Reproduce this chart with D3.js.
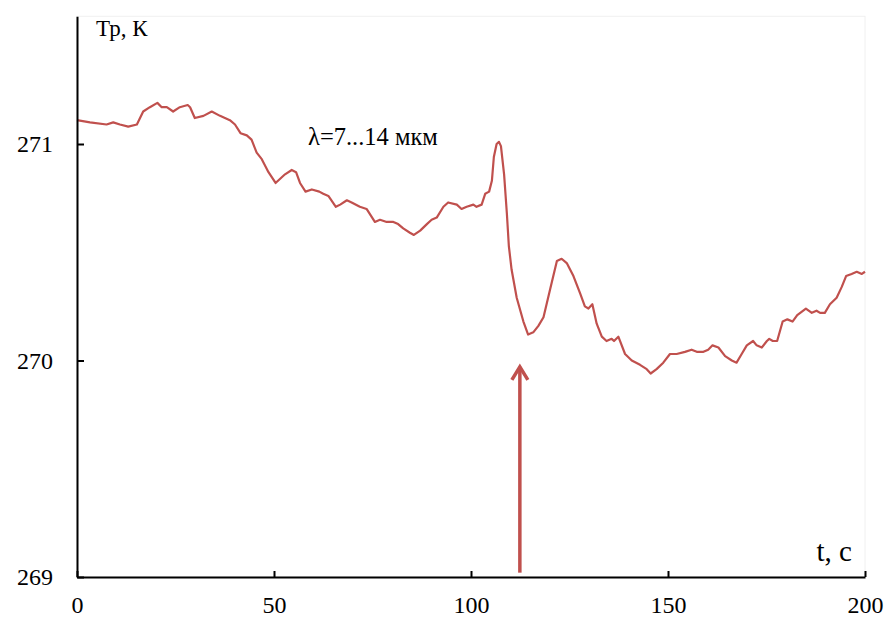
<!DOCTYPE html>
<html>
<head>
<meta charset="utf-8">
<script src="https://cdn.jsdelivr.net/npm/d3@7"></script>
<style>
  html, body { margin: 0; padding: 0; background: #fff; }
  svg { display: block; }
  text { font-family: "Times New Roman", "Liberation Serif", serif; fill: #000; }
</style>
</head>
<body>
<svg id="chart" width="889" height="620"></svg>
<script>
// ---- data ----
const timeS = [0,3.3,7.5,9.2,10.9,13.0,15.2,16.8,18.5,20.4,21.5,22.8,24.4,26.1,28.1,28.7,29.9,32.1,34.2,36.3,38.8,40.1,41.5,43.1,44.3,45.6,46.9,48.6,50.4,52.8,54.5,55.6,56.6,58.0,59.6,61.5,62.5,63.8,65.7,66.8,68.5,69.7,71.8,73.5,75.6,76.9,78.6,80.3,81.5,82.8,84.5,85.5,87.1,88.8,90.0,91.3,93.0,94.2,96.4,97.6,98.9,100.6,101.4,102.7,103.6,104.6,105.3,105.8,106.5,107.1,107.6,108.4,109.1,109.6,110.3,111.6,113.3,114.5,115.8,117.1,118.4,120.1,121.8,123.0,124.3,126.0,127.7,128.9,129.8,130.8,131.9,133.2,134.4,135.7,136.3,137.4,139.1,140.8,142.9,144.6,145.6,147.1,148.8,150.5,152.2,154.3,156.0,157.3,159.0,160.2,161.3,162.8,164.5,166.2,167.4,168.7,170.0,171.6,172.5,173.8,175.1,175.7,176.6,177.7,179.1,180.3,181.6,182.8,185.0,186.5,187.7,188.6,189.8,191.1,192.8,194.1,195.2,196.6,197.9,199.2,200];
const tempK = [271.11,271.10,271.09,271.10,271.09,271.08,271.09,271.15,271.17,271.19,271.17,271.17,271.15,271.17,271.18,271.17,271.12,271.13,271.15,271.13,271.11,271.09,271.05,271.04,271.02,270.96,270.93,270.87,270.82,270.86,270.88,270.87,270.82,270.78,270.79,270.78,270.77,270.76,270.71,270.72,270.74,270.73,270.71,270.70,270.64,270.65,270.64,270.64,270.63,270.61,270.59,270.58,270.60,270.63,270.65,270.66,270.71,270.73,270.72,270.70,270.71,270.72,270.71,270.72,270.77,270.78,270.83,270.94,271.00,271.01,270.99,270.86,270.68,270.53,270.42,270.29,270.18,270.12,270.13,270.16,270.20,270.33,270.46,270.47,270.45,270.39,270.31,270.25,270.24,270.26,270.17,270.11,270.09,270.10,270.09,270.11,270.03,270.00,269.98,269.96,269.94,269.96,269.99,270.03,270.03,270.04,270.05,270.04,270.04,270.05,270.07,270.06,270.02,270.00,269.99,270.03,270.07,270.09,270.07,270.06,270.09,270.10,270.09,270.09,270.18,270.19,270.18,270.21,270.24,270.22,270.23,270.22,270.22,270.26,270.29,270.34,270.39,270.40,270.41,270.40,270.41];
const xTicks = [0, 50, 100, 150, 200];
const yTicks = [269, 270, 271];
const xDomain = [0, 200];
const yDomain = [269, 271.59];
const arrowT = 112.4;
const arrowFromK = 269.02;
const arrowToK = 269.98;
const yTitle = "Тр, К";
const xTitle = "t, c";
const note = "λ=7...14 мкм";

// ---- layout ----
const serif = '"Times New Roman", "Liberation Serif", serif';
const svg = d3.select("#chart");
const plotLeft = 77, plotRight = 865, plotBottom = 577;
const x = d3.scaleLinear().domain(xDomain).range([plotLeft, plotRight]);
const y = d3.scaleLinear().domain([269, 271]).range([plotBottom, 144]);
const plotTop = y(yDomain[1]);
const red = "#c0504d";

// faint plot area border
svg.append("rect")
  .attr("x", plotLeft).attr("y", plotTop)
  .attr("width", plotRight - plotLeft).attr("height", plotBottom - plotTop)
  .attr("fill", "none").attr("stroke", "#f0f0f0").attr("stroke-width", 1);

// data line
const line = d3.line().x((d, i) => x(timeS[i])).y(d => y(d)).curve(d3.curveLinear);
svg.append("path")
  .datum(tempK)
  .attr("d", line)
  .attr("fill", "none")
  .attr("stroke", red)
  .attr("stroke-width", 2.2)
  .attr("stroke-linejoin", "round");

// arrow
const ax = x(arrowT), ay0 = y(arrowFromK), ay1 = y(arrowToK);
svg.append("line")
  .attr("x1", ax).attr("x2", ax).attr("y1", ay0).attr("y2", ay1 + 2)
  .attr("stroke", red).attr("stroke-width", 3.5);
svg.append("path")
  .attr("d", `M${ax - 8},${ay1 + 15} L${ax},${ay1 + 2} L${ax + 8},${ay1 + 15}`)
  .attr("fill", "none").attr("stroke", red).attr("stroke-width", 3.5)
  .attr("stroke-linejoin", "miter");

// axes
const xAxis = d3.axisBottom(x).tickValues(xTicks).tickSizeInner(-6).tickSizeOuter(0).tickFormat(d3.format("d"));
const gx = svg.append("g").attr("transform", `translate(0,${plotBottom})`).call(xAxis)
  .attr("font-family", serif).attr("font-size", 24);
gx.select(".domain").attr("stroke", "#000").attr("stroke-width", 2);
gx.selectAll(".tick line").attr("stroke", "#000").attr("stroke-width", 2);
gx.selectAll(".tick text")
  .attr("dy", null).attr("y", 36)
  .style("font-family", serif)
  .style("font-size", "24px").attr("fill", "#000");

const yScaleAxis = d3.scaleLinear().domain(yDomain).range([plotBottom, plotTop]);
const yAxis = d3.axisLeft(yScaleAxis).tickValues(yTicks).tickSizeInner(-7).tickSizeOuter(0).tickPadding(24).tickFormat(d3.format("d"));
const gy = svg.append("g").attr("transform", `translate(${plotLeft},0)`).call(yAxis)
  .attr("font-family", serif).attr("font-size", 24);
gy.select(".domain").attr("stroke", "#000").attr("stroke-width", 2);
gy.selectAll(".tick line").attr("stroke", "#000").attr("stroke-width", 2);
gy.selectAll(".tick text")
  .style("font-family", serif)
  .style("font-size", "24px").attr("fill", "#000");

// titles
svg.append("text").attr("x", 96).attr("y", 36).style("font-family", serif).style("font-size", "23px").text(yTitle);
svg.append("text").attr("x", 308).attr("y", 145).style("font-family", serif).style("font-size", "24.5px").text(note);
svg.append("text").attr("x", 852).attr("y", 561).attr("text-anchor", "end").style("font-family", serif).style("font-size", "29px").text(xTitle);
</script>
</body>
</html>
